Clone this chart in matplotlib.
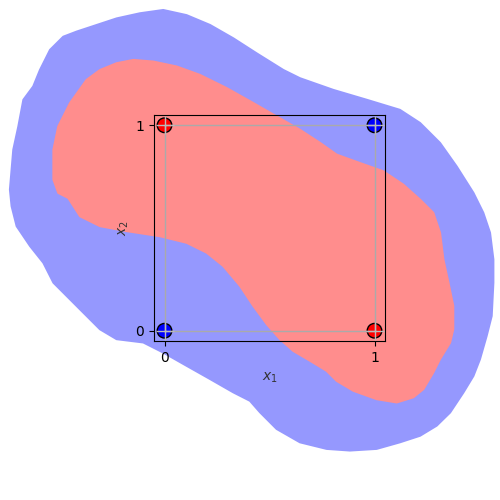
import matplotlib
matplotlib.use("Agg")
import matplotlib.pyplot as plt
from matplotlib.patches import Polygon

# XOR: puntos y clases
x1 = [0, 0, 1, 1]
x2 = [0, 1, 0, 1]
clase = [0, 1, 1, 0]
colores_clase = {0: "blue", 1: "red"}

# contorno de las regiones (en unidades de datos)
azul_x = [-0.006, 0.105, 0.217, 0.328, 0.439, 0.566, 0.645, 0.804, 0.963, 1.121,
          1.217, 1.312, 1.391, 1.471, 1.518, 1.550, 1.566, 1.566, 1.558, 1.534,
          1.502, 1.471, 1.423, 1.360, 1.296, 1.217, 1.121, 1.010, 0.883, 0.772,
          0.645, 0.534, 0.455, 0.407, 0.328, 0.217, 0.106, -0.006, -0.101, -0.228,
          -0.307, -0.402, -0.529, -0.577, -0.640, -0.704, -0.728, -0.736, -0.720, -0.696,
          -0.672, -0.625, -0.593, -0.545, -0.482, -0.418, -0.323, -0.228, -0.117]
azul_y = [1.561, 1.536, 1.488, 1.423, 1.350, 1.269, 1.229, 1.172, 1.124, 1.075,
          1.011, 0.914, 0.800, 0.671, 0.574, 0.477, 0.347, 0.234, 0.072, -0.025,
          -0.139, -0.220, -0.301, -0.398, -0.462, -0.511, -0.543, -0.575, -0.583, -0.575,
          -0.543, -0.478, -0.397, -0.341, -0.300, -0.235, -0.171, -0.106, -0.057, -0.041,
          0.007, 0.104, 0.234, 0.331, 0.412, 0.509, 0.606, 0.687, 0.881, 0.994,
          1.124, 1.189, 1.269, 1.367, 1.431, 1.456, 1.488, 1.520, 1.545]

rojo_x = [-0.148, -0.053, 0.058, 0.169, 0.296, 0.423, 0.534, 0.645, 0.741, 0.820,
          0.931, 1.042, 1.137, 1.217, 1.280, 1.312, 1.328, 1.352, 1.375, 1.375,
          1.360, 1.312, 1.280, 1.233, 1.185, 1.106, 1.010, 0.899, 0.820, 0.772,
          0.693, 0.613, 0.550, 0.487, 0.423, 0.360, 0.280, 0.201, 0.106, -0.021,
          -0.180, -0.307, -0.402, -0.458, -0.506, -0.529, -0.529, -0.506, -0.450, -0.371,
          -0.307, -0.228]
rojo_y = [1.318, 1.310, 1.286, 1.245, 1.181, 1.108, 1.043, 0.978, 0.914, 0.857,
          0.816, 0.776, 0.711, 0.638, 0.574, 0.477, 0.347, 0.234, 0.121, 0.007,
          -0.058, -0.138, -0.203, -0.284, -0.324, -0.349, -0.333, -0.292, -0.244, -0.195,
          -0.146, -0.098, -0.041, 0.032, 0.121, 0.218, 0.315, 0.380, 0.428, 0.460,
          0.485, 0.509, 0.557, 0.646, 0.671, 0.736, 0.881, 0.994, 1.108, 1.221,
          1.269, 1.302]

fig = plt.figure(figsize=(5, 5), dpi=100)
ax = fig.add_axes([0.308, 0.318, 0.462, 0.452])

# regiones (fuera de los ejes también)
ax.add_patch(Polygon(list(zip(azul_x, azul_y)), closed=True, facecolor="#9598fe",
                     edgecolor="#9598fe", lw=1.5, joinstyle="round", clip_on=False, zorder=0))
ax.add_patch(Polygon(list(zip(rojo_x, rojo_y)), closed=True, facecolor="#ff8d8d",
                     edgecolor="#ff8d8d", lw=1.5, joinstyle="round", clip_on=False, zorder=0.5))

# cuadrado que une los puntos
orden = [0, 1, 3, 2, 0]
ax.plot([x1[i] for i in orden], [x2[i] for i in orden], color="#aaaaaa", lw=1, zorder=3)

ax.scatter(x1, x2, c=[colores_clase[c] for c in clase], s=110,
           edgecolors="black", linewidths=1, zorder=2)
ax.scatter(x1, x2, marker="+", s=180, c="#bbbbbb", linewidths=1, zorder=3)

ax.set_xlim(-0.05, 1.05)
ax.set_ylim(-0.05, 1.05)
ax.set_xticks([0, 1])
ax.set_yticks([0, 1])
ax.set_facecolor("none")
ax.set_xlabel("$x_1$", labelpad=4, color="#333333")
ax.set_ylabel("$x_2$", labelpad=3, color="#333333")

fig.savefig("out.png")
